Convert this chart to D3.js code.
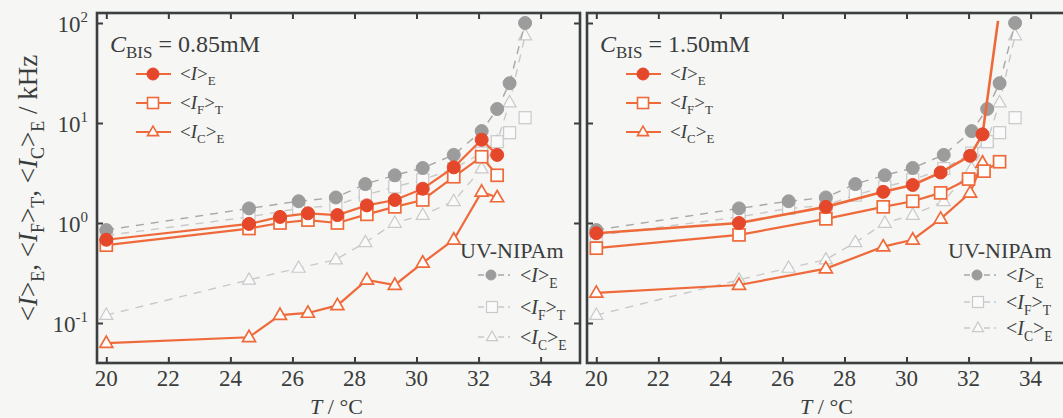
<!DOCTYPE html>
<html>
<head>
<meta charset="utf-8">
<script src="https://cdn.jsdelivr.net/npm/d3@7"></script>
<style>
  html, body { margin: 0; padding: 0; background: #f6f6f4; overflow: hidden; }
  svg { display: block; }
  text { font-family: "Liberation Serif", "DejaVu Serif", serif; fill: #3a3d3d; }
</style>
</head>
<body>
<svg id="chart" width="1063" height="418"></svg>
<script>
// Temperature sweeps (°C) and fluorescence intensities (kHz)
const temps085 = [20, 24.6, 25.6, 26.5, 27.45, 28.4, 29.3, 30.2, 31.2, 32.1, 32.6];
const iE085 = [0.68, 0.98, 1.15, 1.25, 1.2, 1.5, 1.7, 2.2, 3.6, 6.8, 4.8];
const iF085 = [0.6, 0.88, 1.0, 1.07, 1.0, 1.22, 1.45, 1.7, 2.9, 4.6, 3.0];
const iC085 = [0.063, 0.072, 0.12, 0.126, 0.15, 0.27, 0.24, 0.4, 0.68, 2.05, 1.8];

const temps150 = [20, 24.6, 27.4, 29.25, 30.2, 31.1, 32.05, 32.45];
const iE150 = [0.79, 1.0, 1.45, 2.05, 2.4, 3.2, 4.7, 7.7];
const iE150Rise = [32.95, 105];           // steep end of the <I>E trace, no marker
const tempsF150 = [20, 24.6, 27.4, 29.25, 30.2, 31.1, 32.0, 32.5, 33.0];
const iF150 = [0.56, 0.76, 1.1, 1.45, 1.65, 2.0, 2.75, 3.3, 4.1];
const iC150 = [0.2, 0.24, 0.35, 0.58, 0.68, 1.1, 2.0, 4.0];

// UV-NIPAm reference, shown in both panels
const tempsUV = [20, 24.6, 26.2, 27.4, 28.35, 29.3, 30.2, 31.2, 32.1, 32.6, 33.0, 33.5];
const uvE = [0.85, 1.4, 1.65, 1.8, 2.45, 3.0, 3.55, 4.8, 8.3, 13.8, 25, 100];
const uvF = [0.75, 1.15, 1.4, 1.5, 1.9, 2.3, 2.7, 3.5, 5.0, 6.5, 8.0, 11.3];
const uvC = [0.12, 0.27, 0.355, 0.43, 0.64, 1.0, 1.2, 1.65, 3.5, 6.5, 16, 75];

const xTicks = [20, 22, 24, 26, 28, 30, 32, 34];
const yTicks = [0.1, 1, 10, 100];
const yTickExp = ["-1", "0", "1", "2"];
const panelTitles = ["0.85mM", "1.50mM"];

const ORANGE = "#ef6a3a";
const RED = "#e5472b";
const GRAY = "#9c9c9c";
const LIGHT = "#c9c9c9";
const AXIS = "#3b3f3f";

const svg = d3.select("#chart");
const plotTop = 13, plotBottom = 363;
const y = d3.scaleLog().domain([Math.pow(10, -1.4), Math.pow(10, 2.1)]).range([plotBottom, plotTop]);

const panels = [
  { x0: 97, x1: 580, title: panelTitles[0],
    series: [
      { t: temps085, v: iE085, kind: "circle" },
      { t: temps085, v: iF085, kind: "square" },
      { t: temps085, v: iC085, kind: "triangle" }
    ],
    uvLegend: { x: 460, y: 258, rows: [275, 307, 337], lx: 478, tx: 520 },
    ylabels: true },
  { x0: 587, x1: 1070, title: panelTitles[1],
    series: [
      { t: temps150, v: iE150, kind: "circle", rise: iE150Rise },
      { t: tempsF150, v: iF150, kind: "square" },
      { t: temps150, v: iC150, kind: "triangle" }
    ],
    uvLegend: { x: 948, y: 258, rows: [275, 302, 328], lx: 964, tx: 1006 },
    ylabels: false }
];

function marker(g, kind, cx, cy, opt) {
  if (kind === "circle") {
    g.append("circle").attr("cx", cx).attr("cy", cy).attr("r", opt.r || 6.5)
      .attr("fill", opt.fill).attr("stroke", opt.stroke).attr("stroke-width", 1);
  } else if (kind === "square") {
    const s = opt.s || 12;
    g.append("rect").attr("x", cx - s / 2).attr("y", cy - s / 2).attr("width", s).attr("height", s)
      .attr("fill", opt.fill).attr("stroke", opt.stroke).attr("stroke-width", opt.sw || 1.6);
  } else {
    const s = opt.s || 13;
    const h = s * 0.87;
    g.append("path")
      .attr("d", `M${cx},${cy - h * 0.62}L${cx + s / 2},${cy + h * 0.38}L${cx - s / 2},${cy + h * 0.38}Z`)
      .attr("fill", opt.fill).attr("stroke", opt.stroke).attr("stroke-width", opt.sw || 1.6);
  }
}

// "<I_sub>_outer" with italic I and subscripts
function bracketLabel(sel, sub, outer, size) {
  sel.append("tspan").text("<");
  sel.append("tspan").attr("font-style", "italic").text("I");
  if (sub) sel.append("tspan").attr("font-size", size * 0.68).attr("dy", size * 0.28).text(sub);
  sel.append("tspan").attr("dy", sub ? -size * 0.28 : 0).text(">");
  sel.append("tspan").attr("font-size", size * 0.68).attr("dy", size * 0.28).text(outer);
}

const legendNames = [[null, "E"], ["F", "T"], ["C", "E"]];

panels.forEach(p => {
  const x = d3.scaleLinear().domain([19.7, 35.27]).range([p.x0, p.x1]);
  const g = svg.append("g");

  // UV-NIPAm reference curves (dashed, gray)
  const line = d3.line().x(d => x(d[0])).y(d => y(d[1]));
  const uvSets = [
    { v: uvC, kind: "triangle" },
    { v: uvF, kind: "square" },
    { v: uvE, kind: "circle" }
  ];
  uvSets.forEach(s => {
    const pts = tempsUV.map((t, i) => [t, s.v[i]]);
    g.append("path").attr("d", line(pts)).attr("fill", "none")
      .attr("stroke", s.kind === "circle" ? "#a8a8a8" : LIGHT)
      .attr("stroke-width", 1.4).attr("stroke-dasharray", "8,7");
    pts.forEach(d => {
      if (s.kind === "circle") marker(g, "circle", x(d[0]), y(d[1]), { fill: GRAY, stroke: GRAY, r: 6.5 });
      else marker(g, s.kind, x(d[0]), y(d[1]), { fill: "#fafafa", stroke: LIGHT, sw: 1.2 });
    });
  });

  // Sample curves (solid, orange)
  p.series.slice().reverse().forEach(s => {
    const pts = s.t.map((t, i) => [t, s.v[i]]);
    const linePts = s.rise ? pts.concat([s.rise]) : pts;
    g.append("path").attr("d", line(linePts)).attr("fill", "none")
      .attr("stroke", ORANGE).attr("stroke-width", s.rise ? 2.6 : 2.2);
    pts.forEach(d => {
      if (s.kind === "circle") marker(g, "circle", x(d[0]), y(d[1]), { fill: RED, stroke: RED, r: 6.5 });
      else marker(g, s.kind, x(d[0]), y(d[1]), { fill: "#fdfdfb", stroke: ORANGE, sw: 1.7 });
    });
  });

  // Frame and inward ticks
  const ax = svg.append("g");
  ax.append("rect").attr("x", p.x0).attr("y", plotTop).attr("width", p.x1 - p.x0).attr("height", plotBottom - plotTop)
    .attr("fill", "none").attr("stroke", AXIS).attr("stroke-width", 2.6);
  const bottomAxis = d3.axisBottom(x).tickValues(xTicks).tickSize(-6).tickFormat("");
  const topAxis = d3.axisTop(x).tickValues(xTicks).tickSize(-6).tickFormat("");
  const leftAxis = d3.axisLeft(y).tickValues(yTicks).tickSize(-6).tickFormat("");
  const rightAxis = d3.axisRight(y).tickValues(yTicks).tickSize(-6).tickFormat("");
  [[bottomAxis, `translate(0,${plotBottom})`], [topAxis, `translate(0,${plotTop})`],
   [leftAxis, `translate(${p.x0},0)`], [rightAxis, `translate(${p.x1},0)`]].forEach(a => {
    const gg = ax.append("g").attr("transform", a[1]).call(a[0]);
    gg.select(".domain").remove();
    gg.selectAll("line").attr("stroke", AXIS).attr("stroke-width", 2);
  });

  // x tick labels
  xTicks.forEach(t => {
    ax.append("text").attr("x", x(t)).attr("y", 386).attr("text-anchor", "middle")
      .attr("font-size", 23).text(t);
  });
  // x axis title
  const xt = ax.append("text").attr("x", (p.x0 + p.x1) / 2 - 2).attr("y", 414)
    .attr("text-anchor", "middle").attr("font-size", 22);
  xt.append("tspan").attr("font-style", "italic").text("T");
  xt.append("tspan").text("  / °C");

  if (p.ylabels) {
    yTicks.forEach((v, i) => {
      const tx = ax.append("text").attr("x", 88).attr("y", y(v) + 9).attr("text-anchor", "end")
        .attr("font-size", 23);
      tx.append("tspan").text("10");
      tx.append("tspan").attr("font-size", 15).attr("dy", -10).text(yTickExp[i]);
    });
  }

  // Concentration title and legend
  const lx = p.x0 + 13;
  const tt = ax.append("text").attr("x", lx).attr("y", 52).attr("font-size", 24);
  tt.append("tspan").attr("font-style", "italic").text("C");
  tt.append("tspan").attr("font-size", 17).attr("dy", 6).text("BIS");
  tt.append("tspan").attr("dy", -6).text(" = " + p.title);

  const rows = [74, 103, 132];
  ["circle", "square", "triangle"].forEach((k, i) => {
    const cy = rows[i];
    ax.append("line").attr("x1", lx + 26).attr("x2", lx + 61).attr("y1", cy).attr("y2", cy)
      .attr("stroke", ORANGE).attr("stroke-width", 2);
    if (k === "circle") marker(ax, k, lx + 43, cy, { fill: RED, stroke: RED, r: 6 });
    else marker(ax, k, lx + 43, cy, { fill: "#fdfdfb", stroke: ORANGE, sw: 1.6, s: 11 });
    const t = ax.append("text").attr("x", lx + 70).attr("y", cy + 6).attr("font-size", 19);
    bracketLabel(t, legendNames[i][0], legendNames[i][1], 19);
  });

  // UV-NIPAm legend
  const u = p.uvLegend;
  ax.append("text").attr("x", u.x).attr("y", u.y).attr("font-size", 22).text("UV-NIPAm");
  ["circle", "square", "triangle"].forEach((k, i) => {
    const cy = u.rows[i];
    ax.append("line").attr("x1", u.lx).attr("x2", u.lx + 32).attr("y1", cy).attr("y2", cy)
      .attr("stroke", k === "circle" ? "#a8a8a8" : LIGHT).attr("stroke-width", 1.4)
      .attr("stroke-dasharray", "6,4");
    if (k === "circle") marker(ax, k, u.lx + 13, cy, { fill: GRAY, stroke: GRAY, r: 5 });
    else marker(ax, k, u.lx + 14, cy, { fill: "#fafafa", stroke: LIGHT, sw: 1.2, s: 11 });
    const t = ax.append("text").attr("x", u.tx).attr("y", cy + 7).attr("font-size", 20);
    bracketLabel(t, legendNames[i][0], legendNames[i][1], 20);
  });
});

// y axis title
const yt = svg.append("text").attr("transform", "translate(37,188) rotate(-90)")
  .attr("text-anchor", "middle").attr("font-size", 27);
[[null, "E", ", "], ["F", "T", ", "], ["C", "E", " / kHz"]].forEach(d => {
  yt.append("tspan").text("<");
  yt.append("tspan").attr("font-style", "italic").text("I");
  if (d[0]) yt.append("tspan").attr("font-size", 18).attr("dy", 7).text(d[0]);
  yt.append("tspan").attr("dy", d[0] ? -7 : 0).text(">");
  yt.append("tspan").attr("font-size", 18).attr("dy", 7).text(d[1]);
  yt.append("tspan").attr("dy", -7).text(d[2]);
});
</script>
</body>
</html>
